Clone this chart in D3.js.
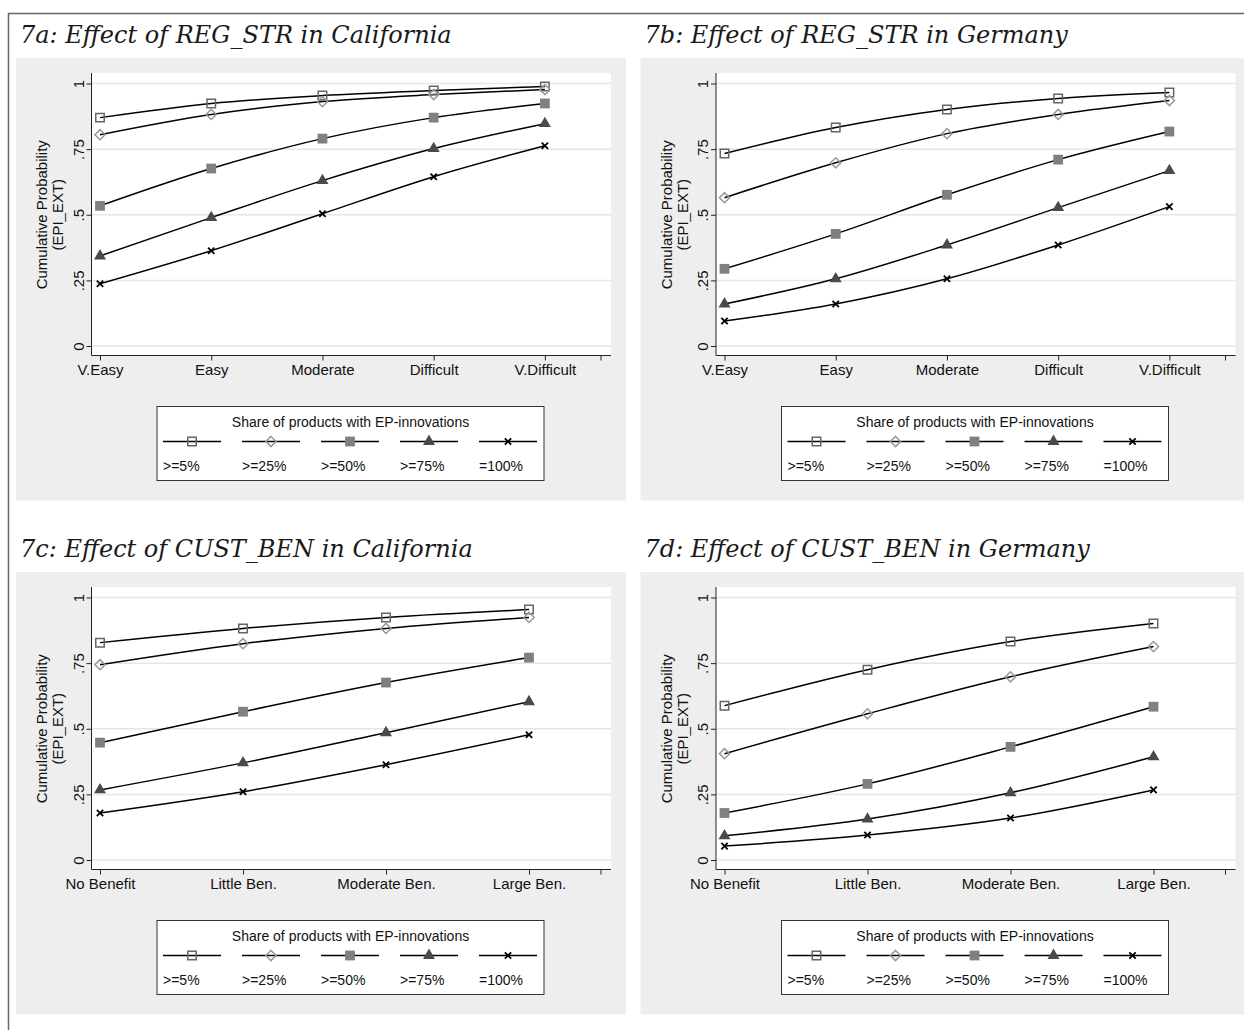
<!DOCTYPE html>
<html>
<head>
<meta charset="utf-8">
<script src="https://cdn.jsdelivr.net/npm/d3@7"></script>
<style>
  body { margin: 0; background: #fff; }
  svg { display: block; }
  .tick text { font-family: "Liberation Sans", Arial, sans-serif; font-size: 15px; fill: #111; }
</style>
</head>
<body>
<div class="container"></div>
<script>
const WIDTH = 1244,
    HEIGHT = 1030,
    SANS = '"Liberation Sans", Arial, sans-serif',
    SERIF = '"DejaVu Serif", serif';

// categories
const regStrCats = ['V.Easy', 'Easy', 'Moderate', 'Difficult', 'V.Difficult'];
const custBenCats = ['No Benefit', 'Little Ben.', 'Moderate Ben.', 'Large Ben.'];
const seriesNames = ['>=5%', '>=25%', '>=50%', '>=75%', '=100%'];
const yTicks = [0, 0.25, 0.5, 0.75, 1];
const yTickLabels = ['0', '.25', '.5', '.75', '1'];
const legendTitle = 'Share of products with EP-innovations';
const yTitle = ['Cumulative Probability', '(EPI_EXT)'];

// cumulative probabilities, one row per series (>=5% ... =100%)
const regStrCalifornia = [
    [0.870, 0.924, 0.954, 0.973, 0.989],
    [0.805, 0.882, 0.931, 0.958, 0.977],
    [0.534, 0.676, 0.790, 0.870, 0.924],
    [0.343, 0.489, 0.630, 0.752, 0.847],
    [0.237, 0.363, 0.504, 0.645, 0.763]
];
const regStrGermany = [
    [0.733, 0.832, 0.901, 0.943, 0.966],
    [0.565, 0.698, 0.809, 0.882, 0.935],
    [0.294, 0.427, 0.576, 0.710, 0.817],
    [0.160, 0.256, 0.385, 0.527, 0.668],
    [0.095, 0.160, 0.256, 0.385, 0.531]
];
const custBenCalifornia = [
    [0.828, 0.882, 0.924, 0.954],
    [0.744, 0.824, 0.882, 0.924],
    [0.447, 0.565, 0.676, 0.771],
    [0.267, 0.370, 0.485, 0.603],
    [0.179, 0.260, 0.363, 0.477]
];
const custBenGermany = [
    [0.588, 0.725, 0.832, 0.901],
    [0.405, 0.557, 0.698, 0.813],
    [0.179, 0.290, 0.431, 0.584],
    [0.092, 0.156, 0.256, 0.393],
    [0.053, 0.095, 0.160, 0.267]
];

// marker styles per series
const markerStyles = [
    { type: d3.symbolSquare, size: 72, fill: 'none', stroke: '#666', sw: 1.5 },
    { type: d3.symbolDiamond2, size: 66, fill: 'none', stroke: '#999', sw: 1.5 },
    { type: d3.symbolSquare, size: 96, fill: '#808080', stroke: 'none', sw: 0 },
    { type: d3.symbolTriangle, size: 62, fill: '#4a4a4a', stroke: 'none', sw: 0 },
    { type: d3.symbolTimes, size: 28, fill: 'none', stroke: '#000', sw: 1.8 }
];

const panels = [
    { title: '7a: Effect of REG_STR in California', cats: regStrCats, values: regStrCalifornia, ox: 0, oy: 0 },
    { title: '7b: Effect of REG_STR in Germany', cats: regStrCats, values: regStrGermany, ox: 624.5, oy: 0 },
    { title: '7c: Effect of CUST_BEN in California', cats: custBenCats, values: custBenCalifornia, ox: 0, oy: 514 },
    { title: '7d: Effect of CUST_BEN in Germany', cats: custBenCats, values: custBenGermany, ox: 624.5, oy: 514 }
];

const translate = (x, y) => `translate(${x},${y})`;

var drawMarker = (g, style, x, y) => {
    g.append('path')
        .attr('transform', translate(x, y))
        .attr('d', d3.symbol().type(style.type).size(style.size)())
        .attr('fill', style.fill)
        .attr('stroke', style.stroke)
        .attr('stroke-width', style.sw);
}

var drawPanel = (svg, p) => {
    var g = svg.append('g').attr('transform', translate(p.ox, p.oy));

    // graph region + title
    g.append('rect').attr('x', 16).attr('y', 58).attr('width', 610).attr('height', 442.5).attr('fill', '#eeeeee');
    g.append('text').attr('x', 20).attr('y', 43)
        .style('font-family', SERIF).style('font-style', 'italic').style('font-size', '24px')
        .attr('fill', '#1a1a1a').text(p.title);

    // plot region
    var left = 91.5, right = 611, top = 73, bottom = 355.5;
    g.append('rect').attr('x', left).attr('y', top).attr('width', right - left).attr('height', bottom - top).attr('fill', '#fff');

    var n = p.cats.length;
    var x = d3.scaleLinear().domain([1, n + 0.5]).range([100, 600.5]);
    var y = d3.scaleLinear().domain([0, 1]).range([346, 83.5]);

    g.selectAll('.grid').data(yTicks).enter().append('line')
        .attr('x1', left).attr('x2', right)
        .attr('y1', y).attr('y2', y)
        .attr('stroke', '#e6e6e6').attr('stroke-width', 1.5);

    var yAxis = d3.axisLeft(y).tickValues(yTicks).tickSize(5).tickFormat((d, i) => yTickLabels[i]);
    var ya = g.append('g').attr('transform', translate(left, 0)).call(yAxis);
    ya.select('.domain').remove();
    ya.selectAll('line').attr('stroke', '#222');
    ya.selectAll('text')
        .attr('transform', 'rotate(-90)')
        .attr('x', 0).attr('y', -8).attr('dy', 0)
        .attr('text-anchor', 'middle');

    var xTicks = d3.range(1, n + 1).concat([n + 0.5]);
    var xAxis = d3.axisBottom(x).tickValues(xTicks).tickSize(5).tickFormat((d) => p.cats[d - 1] || '');
    var xa = g.append('g').attr('transform', translate(0, bottom)).call(xAxis);
    xa.select('.domain').remove();
    xa.selectAll('line').attr('stroke', '#222');
    xa.selectAll('text').attr('y', 9);

    g.append('line').attr('x1', left).attr('x2', left).attr('y1', top).attr('y2', bottom).attr('stroke', '#222');
    g.append('line').attr('x1', left).attr('x2', right).attr('y1', bottom).attr('y2', bottom).attr('stroke', '#222');

    // axis title
    var yt = g.append('text')
        .attr('transform', translate(0, y(0.5)) + ' rotate(-90)')
        .attr('text-anchor', 'middle')
        .style('font-family', SANS).style('font-size', '15px').attr('fill', '#111');
    yt.append('tspan').attr('x', 0).attr('y', 47).text(yTitle[0]);
    yt.append('tspan').attr('x', 0).attr('y', 63).text(yTitle[1]);

    // series
    var line = d3.line()
        .x((d, i) => x(i + 1))
        .y((d) => y(d))
        .curve(d3.curveMonotoneX);

    p.values.forEach((vals) => {
        g.append('path').attr('d', line(vals))
            .attr('fill', 'none').attr('stroke', '#000').attr('stroke-width', 1.5);
    });
    p.values.forEach((vals, s) => {
        vals.forEach((v, i) => drawMarker(g, markerStyles[s], x(i + 1), y(v)));
    });

    // legend
    var lg = g.append('g');
    lg.append('rect').attr('x', 157).attr('y', 406.5).attr('width', 387).attr('height', 74)
        .attr('fill', '#fff').attr('stroke', '#333');
    lg.append('text').attr('x', 350.5).attr('y', 426.5).attr('text-anchor', 'middle')
        .style('font-family', SANS).style('font-size', '14px').attr('fill', '#111').text(legendTitle);
    var lx = d3.scalePoint().domain(seriesNames).range([192, 508]);
    seriesNames.forEach((name, s) => {
        var cx = lx(name);
        lg.append('line').attr('x1', cx - 29).attr('x2', cx + 29).attr('y1', 441.5).attr('y2', 441.5)
            .attr('stroke', '#000').attr('stroke-width', 1.5);
        drawMarker(lg, markerStyles[s], cx, 441.5);
        lg.append('text').attr('x', cx - 29).attr('y', 471)
            .style('font-family', SANS).style('font-size', '14px').attr('fill', '#111').text(name);
    });
}

window.onload = () => {
    var svg = d3.select('.container').append('svg')
        .attr('width', WIDTH)
        .attr('height', HEIGHT);

    svg.append('rect').attr('width', WIDTH).attr('height', HEIGHT).attr('fill', '#fff');

    panels.forEach((p) => drawPanel(svg, p));

    // outer frame
    svg.append('line').attr('x1', 8.5).attr('x2', 8.5).attr('y1', 13).attr('y2', HEIGHT).attr('stroke', '#666').attr('stroke-width', 1.5);
    svg.append('line').attr('x1', 8).attr('x2', WIDTH).attr('y1', 13.5).attr('y2', 13.5).attr('stroke', '#666').attr('stroke-width', 1.5);
}
</script>
</body>
</html>
